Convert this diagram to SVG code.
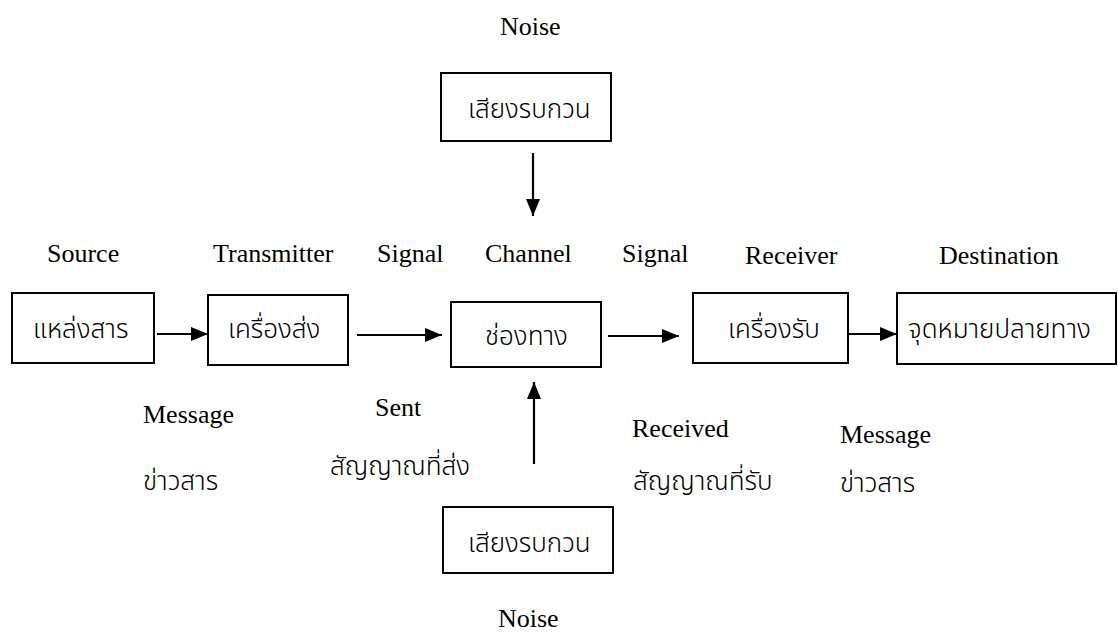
<svg xmlns="http://www.w3.org/2000/svg" width="1118" height="634" viewBox="0 0 1118 634">
<defs>
<style>
.box{fill:#fff;stroke:#000;stroke-width:2}
.en{font-family:"Liberation Serif","Times New Roman",serif;font-size:26px;fill:#000}
.th{font-family:"Noto Sans Thai","Noto Serif Thai","Loma","Garuda","Liberation Sans",sans-serif;font-size:26px;font-weight:300;fill:#000}
.ln{stroke:#000;stroke-width:2.2;fill:none;marker-end:url(#ah)}
</style>
<marker id="ah" markerUnits="userSpaceOnUse" markerWidth="18" markerHeight="14" refX="17" refY="7" orient="auto">
<path d="M0,0 L17,7 L0,14 Z" fill="#000"/>
</marker>
</defs>
<rect width="1118" height="634" fill="#fff"/>
<g id="noise-top">
<text class="en" x="500" y="35">Noise</text>
<rect class="box" x="441" y="73" width="170" height="68"/>
<text class="th" x="468" y="118">เสียงรบกวน</text>
</g>
<g id="source">
<text class="en" x="47" y="262">Source</text>
<rect class="box" x="12" y="293" width="142" height="70"/>
<text class="th" x="33" y="338">แหล่งสาร</text>
<text class="en" x="143" y="423">Message</text>
<text class="th" x="143" y="490">ข่าวสาร</text>
</g>
<g id="transmitter">
<text class="en" x="213" y="262">Transmitter</text>
<rect class="box" x="208" y="295" width="140" height="70"/>
<text class="th" x="228" y="338">เครื่องส่ง</text>
</g>
<g id="signal-sent">
<text class="en" x="377" y="262">Signal</text>
<text class="en" x="375" y="416">Sent</text>
<text class="th" x="330" y="475">สัญญาณที่ส่ง</text>
</g>
<g id="channel">
<text class="en" x="485" y="262">Channel</text>
<rect class="box" x="451" y="302" width="150" height="65"/>
<text class="th" x="485" y="345">ช่องทาง</text>
</g>
<g id="signal-received">
<text class="en" x="622" y="262">Signal</text>
<text class="en" x="632" y="437">Received</text>
<text class="th" x="633" y="490">สัญญาณที่รับ</text>
</g>
<g id="receiver">
<text class="en" x="745" y="264">Receiver</text>
<rect class="box" x="693" y="293" width="155" height="70"/>
<text class="th" x="728" y="338">เครื่องรับ</text>
<text class="en" x="840" y="443">Message</text>
<text class="th" x="840" y="492">ข่าวสาร</text>
</g>
<g id="destination">
<text class="en" x="939" y="264">Destination</text>
<rect class="box" x="897" y="293" width="219" height="71"/>
<text class="th" x="908" y="338">จุดหมายปลายทาง</text>
</g>
<g id="noise-bottom">
<rect class="box" x="443" y="507" width="170" height="66"/>
<text class="th" x="468" y="552">เสียงรบกวน</text>
<text class="en" x="498" y="627">Noise</text>
</g>
<g id="connectors">
<line class="ln" x1="157" y1="334" x2="208" y2="334"/>
<line class="ln" x1="357" y1="335" x2="442" y2="335"/>
<line class="ln" x1="608" y1="336" x2="679" y2="336"/>
<line class="ln" x1="848" y1="334" x2="897" y2="334"/>
<line class="ln" x1="533" y1="153" x2="533" y2="216"/>
<line class="ln" x1="534" y1="464" x2="534" y2="382"/>
</g>
</svg>
